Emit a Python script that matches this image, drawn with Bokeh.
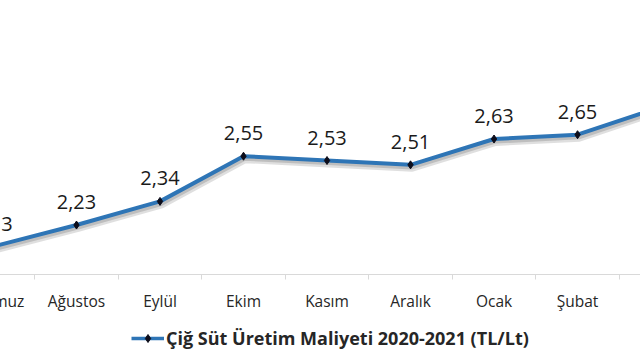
from bokeh.plotting import figure
from bokeh.layouts import column
from bokeh.models import Range1d, FixedTicker, ColumnDataSource, LabelSet, Legend, LegendItem
from bokeh.transform import dodge
from bokeh.embed import file_html
from bokeh.resources import INLINE
from bokeh.core.properties import value

months = ["Temmuz", "Ağustos", "Eylül", "Ekim", "Kasım", "Aralık", "Ocak", "Şubat", "Mart"]
costs = [2.13, 2.23, 2.34, 2.55, 2.53, 2.51, 2.63, 2.65, 2.78]
cost_labels = ["2,13", "2,23", "2,34", "2,55", "2,53", "2,51", "2,63", "2,65", "2,78"]
series_name = "Çiğ Süt Üretim Maliyeti 2020-2021 (TL/Lt)"

idx = list(range(len(months)))
src = ColumnDataSource(dict(x=idx, y=costs, lab=cost_labels))

FONT = "Open Sans"
SHIFT = 45  # px of the plot that lie left of the visible page
LINE_COLOR = "#2e75b6"
MARK_COLOR = "#0d0d1a"

p = figure(frame_width=640 + SHIFT, frame_height=274, output_backend="svg", toolbar_location=None,
           x_range=Range1d(0.09 - SHIFT / 83.5, 7.754), y_range=Range1d(2.0, 3.274),
           y_axis_location=None, min_border=0,
           background_fill_color="white", border_fill_color="white")
p.outline_line_color = None
p.xgrid.visible = False
p.ygrid.visible = False

ax = p.xaxis[0]
ax.ticker = FixedTicker(ticks=idx, minor_ticks=[i - 0.5 for i in range(len(months) + 1)])
ax.major_label_overrides = {i: m for i, m in zip(idx, months)}
ax.major_tick_line_color = None
ax.major_tick_out = 0
ax.major_tick_in = 0
ax.minor_tick_out = 5
ax.minor_tick_in = 0
ax.minor_tick_line_color = "#d9d9d9"
ax.axis_line_color = "#d9d9d9"
ax.major_label_standoff = 10
ax.major_label_text_font = FONT
ax.major_label_text_font_size = "15.5px"
ax.major_label_text_color = "#262626"

# soft shadow under the line
p.line(x=dodge("x", 0.02, range=p.x_range), y=dodge("y", -0.016, range=p.y_range),
       source=src, line_color="#808080", line_alpha=0.25, line_width=7)
p.line(x=dodge("x", 0.015, range=p.x_range), y=dodge("y", -0.012, range=p.y_range),
       source=src, line_color="#808080", line_alpha=0.35, line_width=4)

p.line(x="x", y="y", source=src, line_color=LINE_COLOR, line_width=4)
p.scatter(x="x", y="y", source=src, marker="diamond", size=8,
          fill_color=MARK_COLOR, line_color=MARK_COLOR)

labels = LabelSet(x="x", y="y", text="lab", source=src, y_offset=16,
                  text_align="center", text_baseline="alphabetic",
                  text_font=value(FONT), text_font_size="20px", text_color="#1a1a1a")
p.add_layout(labels)

# legend strip below the chart
LEG_H = 52
p2 = figure(frame_width=640 + SHIFT, frame_height=LEG_H, output_backend="svg", toolbar_location=None,
            x_range=Range1d(100, 101), y_range=Range1d(100, 101),
            x_axis_location=None, y_axis_location=None, min_border=0,
            background_fill_color="white", border_fill_color="white")
p2.outline_line_color = None
p2.xgrid.visible = False
p2.ygrid.visible = False
l2 = p2.line(x="x", y="y", source=src, line_color=LINE_COLOR, line_width=3.5)
m2 = p2.scatter(x="x", y="y", source=src, marker="diamond", size=8,
                fill_color=MARK_COLOR, line_color=MARK_COLOR)
leg = Legend(items=[LegendItem(label=series_name, renderers=[l2, m2])],
             orientation="horizontal", location=(135 + SHIFT - 4, 16),
             margin=0, padding=4, glyph_width=33, glyph_height=20, label_standoff=2,
             label_text_font=FONT, label_text_font_size="18px",
             label_text_font_style="bold", label_text_color="#262626",
             border_line_color=None, background_fill_alpha=0)
p2.add_layout(leg)

layout = column(p, p2, spacing=0)
layout.styles = {"margin-left": f"-{SHIFT}px"}

open("out.html", "w").write(file_html(layout, INLINE))
